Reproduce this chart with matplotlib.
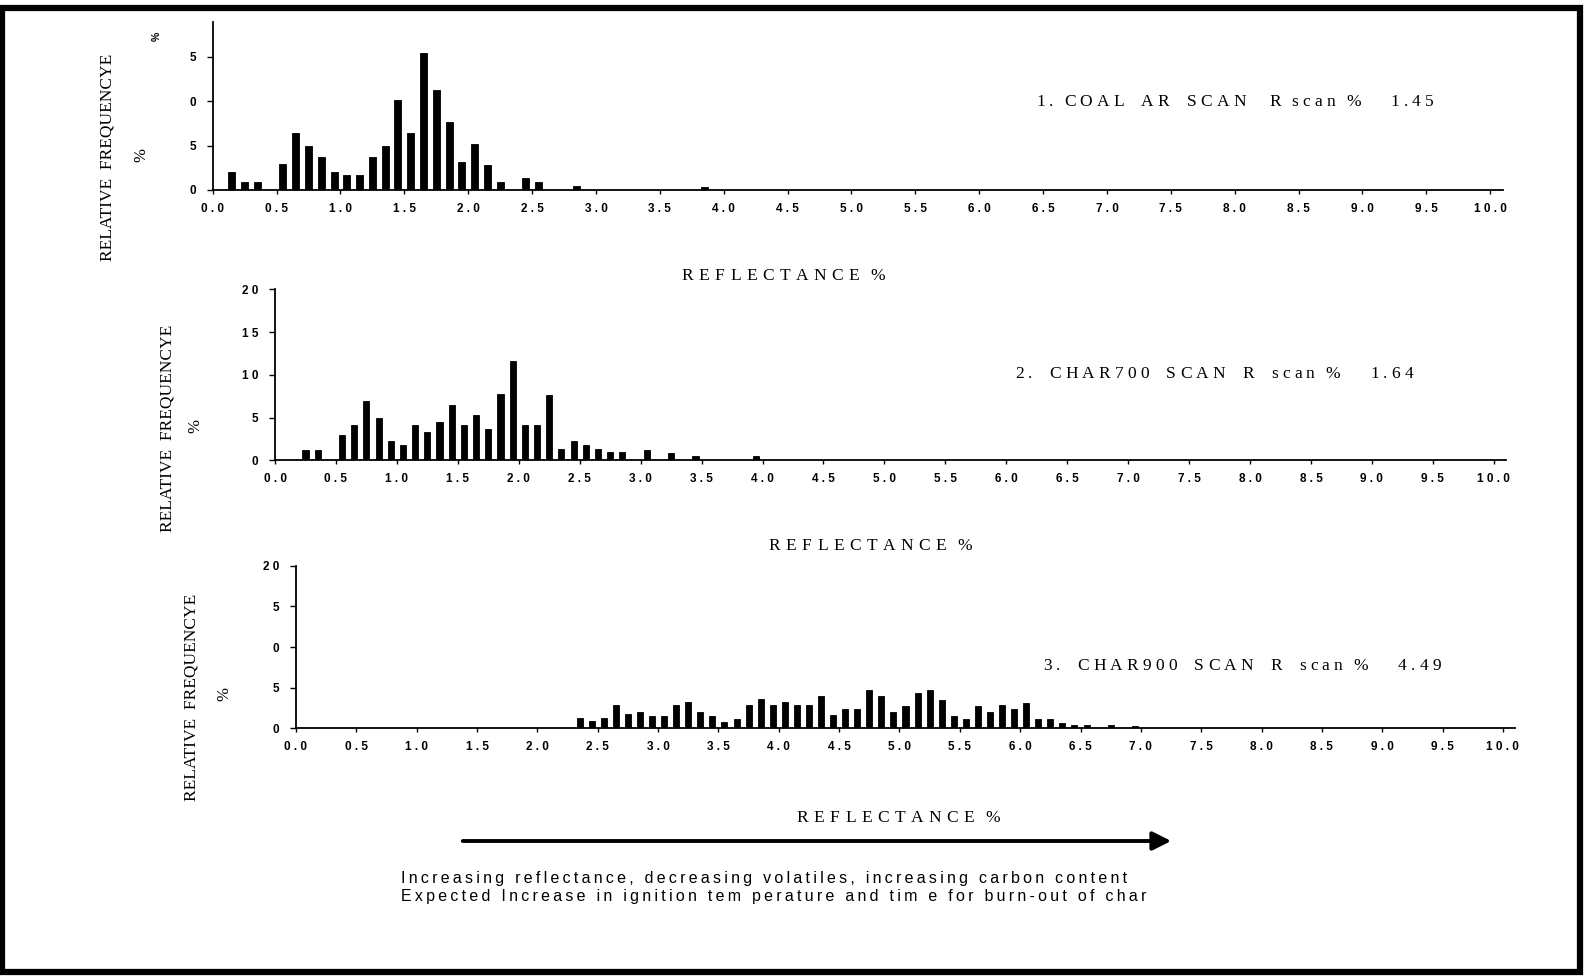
import matplotlib
matplotlib.use("Agg")
import matplotlib.pyplot as plt
from matplotlib.patches import Rectangle, FancyArrowPatch

# ---- data -------------------------------------------------------------
coal_x = [0.15, 0.25, 0.35, 0.55, 0.65, 0.75, 0.85, 0.95, 1.05, 1.15, 1.25,
          1.35, 1.45, 1.55, 1.65, 1.75, 1.85, 1.95, 2.05, 2.15, 2.25, 2.45,
          2.55, 2.85, 3.85]
coal_y = [2.0, 0.9, 0.9, 2.9, 6.4, 4.9, 3.7, 2.05, 1.7, 1.65, 3.7,
          4.9, 10.1, 6.4, 15.4, 11.3, 7.6, 3.2, 5.2, 2.8, 0.9, 1.3,
          0.9, 0.5, 0.3]

char700_x = [0.25, 0.35, 0.55, 0.65, 0.75, 0.85, 0.95, 1.05, 1.15, 1.25,
             1.35, 1.45, 1.55, 1.65, 1.75, 1.85, 1.95, 2.05, 2.15, 2.25,
             2.35, 2.45, 2.55, 2.65, 2.75, 2.85, 3.05, 3.25, 3.45, 3.95]
char700_y = [1.2, 1.2, 3.0, 4.15, 6.95, 5.0, 2.2, 1.8, 4.1, 3.35,
             4.5, 6.5, 4.1, 5.25, 3.7, 7.7, 11.65, 4.1, 4.1, 7.6,
             1.3, 2.2, 1.8, 1.3, 1.0, 1.0, 1.25, 0.9, 0.45, 0.5]

char900_x = [2.35, 2.45, 2.55, 2.65, 2.75, 2.85, 2.95, 3.05, 3.15, 3.25,
             3.35, 3.45, 3.55, 3.65, 3.75, 3.85, 3.95, 4.05, 4.15, 4.25,
             4.35, 4.45, 4.55, 4.65, 4.75, 4.85, 4.95, 5.05, 5.15, 5.25,
             5.35, 5.45, 5.55, 5.65, 5.75, 5.85, 5.95, 6.05, 6.15, 6.25,
             6.35, 6.45, 6.55, 6.75, 6.95]
char900_y = [1.25, 0.85, 1.25, 2.9, 1.7, 2.05, 1.55, 1.55, 2.85, 3.2,
             2.0, 1.55, 0.8, 1.15, 2.85, 3.55, 2.85, 3.25, 2.85, 2.85,
             4.0, 1.6, 2.4, 2.4, 4.75, 4.0, 2.0, 2.8, 4.3, 4.7,
             3.5, 1.5, 1.1, 2.75, 2.0, 2.85, 2.35, 3.15, 1.1, 1.1,
             0.7, 0.4, 0.35, 0.35, 0.3]

x_ticks = [0.0, 0.5, 1.0, 1.5, 2.0, 2.5, 3.0, 3.5, 4.0, 4.5, 5.0,
           5.5, 6.0, 6.5, 7.0, 7.5, 8.0, 8.5, 9.0, 9.5, 10.0]
x_tick_labels = ["0.0", "0.5", "1.0", "1.5", "2.0", "2.5", "3.0", "3.5",
                 "4.0", "4.5", "5.0", "5.5", "6.0", "6.5", "7.0", "7.5",
                 "8.0", "8.5", "9.0", "9.5", "10.0"]

coal_yticks = [0, 5, 10, 15]
coal_ytick_labels = ["0", "5", "0", "5"]
char700_yticks = [0, 5, 10, 15, 20]
char700_ytick_labels = ["0", "5", "10", "15", "20"]
char900_yticks = [0, 5, 10, 15, 20]
char900_ytick_labels = ["0", "5", "0", "5", "20"]

titles = ["1. COAL  AR  SCAN   R scan %    1.45",
          "2.  CHAR700  SCAN  R  scan %    1.64",
          "3.  CHAR900  SCAN  R  scan %    4.49"]
xlabel_text = "REFLECTANCE %"
ylabel_text = "RELATIVE  FREQUENCYE"
note_lines = ["Increasing reflectance, decreasing volatiles, increasing carbon content",
              "Expected Increase in ignition tem perature and tim e for burn-out of char"]

# ---- figure -----------------------------------------------------------
W, H = 1585, 977
fig = plt.figure(figsize=(W / 100, H / 100), dpi=100)
fig.patch.set_facecolor("white")
renderer = fig.canvas.get_renderer()

SANS = ["Liberation Sans", "DejaVu Sans"]
SERIF = ["Liberation Serif", "DejaVu Serif"]


def spaced(s, gap=" "):
    return gap.join(list(s))


def fx(px):
    return px / W


def fy(py):
    return 1 - py / H


def rect(left, top, right, bottom):
    return [fx(left), fy(bottom), fx(right) - fx(left), fy(top) - fy(bottom)]


def tracked(x_px, y_base, s, size, family, track, space, ha="left"):
    """Draw s one glyph at a time with a fixed gap (pixels) between glyphs."""
    widths = []
    for c in s:
        if c == " ":
            widths.append(None)
            continue
        t = fig.text(0, 0, c, fontsize=size, family=family)
        widths.append(t.get_window_extent(renderer=renderer).width)
        t.remove()
    xs, cur = [], 0.0
    for w in widths:
        if w is None:
            xs.append(None)
            cur += space
        else:
            xs.append(cur)
            cur += w + track
    total = cur - track
    x0 = x_px - total / 2 if ha == "center" else x_px
    for c, xx in zip(s, xs):
        if xx is None:
            continue
        fig.text(fx(x0 + xx), fy(y_base), c, fontsize=size, family=family,
                 ha="left", va="baseline")


panels = [
    dict(rect=rect(212.7, 22, 1503, 190), x=coal_x, y=coal_y, w=0.055,
         ymax=18.9, yt=coal_yticks, ytl=coal_ytick_labels),
    dict(rect=rect(275, 289.3, 1506, 460.3), x=char700_x, y=char700_y, w=0.05,
         ymax=20, yt=char700_yticks, ytl=char700_ytick_labels),
    dict(rect=rect(296, 565.7, 1515, 728.3), x=char900_x, y=char900_y, w=0.05,
         ymax=20, yt=char900_yticks, ytl=char900_ytick_labels),
]

for p in panels:
    ax = fig.add_axes(p["rect"])
    ax.bar(p["x"], p["y"], width=p["w"], color="black", edgecolor="black",
           linewidth=0.6)
    ax.set_xlim(0, 10.1)
    ax.set_ylim(0, p["ymax"])
    for side in ("top", "right"):
        ax.spines[side].set_visible(False)
    for side in ("left", "bottom"):
        ax.spines[side].set_linewidth(1.3)
        ax.spines[side].set_color("black")
    ax.set_xticks(x_ticks)
    ax.set_xticklabels([spaced(t) for t in x_tick_labels], fontsize=8.5,
                       fontweight="bold", family=SANS)
    ax.set_yticks(p["yt"])
    ax.set_yticklabels([spaced(t) for t in p["ytl"]], fontsize=8.5,
                       fontweight="bold", family=SANS)
    ax.tick_params(axis="x", length=3, width=1, pad=6, direction="out")
    ax.tick_params(axis="y", length=4, width=1, pad=8, direction="out")
    ax.set_facecolor("none")

# panel titles (letter-spaced serif)
for (x0, yb), t in zip([(1036, 106.5), (1015, 378.5), (1043, 669.5)], titles):
    tracked(x0, yb, t, 12.5, SERIF, track=4.2, space=6.5)

# reflectance labels under each axis
for xc, yb in [(783, 279.5), (870, 550.5), (898, 822.5)]:
    tracked(xc, yb, xlabel_text, 12.5, SERIF, track=5.5, space=5,
            ha="center")

# vertical frequency labels and % marks
for (xl, yl), (xp, yp) in zip([(108, 157), (167, 428), (191, 697)],
                              [(141, 155), (195, 426), (224, 694)]):
    fig.text(fx(xl), fy(yl), ylabel_text, family=SERIF, fontsize=12.5,
             rotation=90, ha="center", va="center")
    fig.text(fx(xp), fy(yp), "%", family=SERIF, fontsize=12,
             rotation=90, ha="center", va="center")
fig.text(fx(157), fy(36), "%", family=SANS, fontsize=7.5, fontweight="bold",
         rotation=90, ha="center", va="center")

# trend arrow and explanatory notes
arrow = FancyArrowPatch((fx(460), fy(841)), (fx(1174), fy(841)),
                        transform=fig.transFigure, arrowstyle="-|>",
                        mutation_scale=28, linewidth=2.8, color="black")
fig.add_artist(arrow)
for yy, line in zip([879, 897], note_lines):
    fig.text(fx(401), fy(yy), spaced(line, "\u2009"), family=SANS,
             fontsize=11.5, ha="left", va="center")

# outer frame
fig.add_artist(Rectangle((fx(2), fy(972)), fx(1580) - fx(2), fy(8) - fy(972),
                         transform=fig.transFigure, fill=False,
                         linewidth=4.5, edgecolor="black"))

fig.savefig("out.png", dpi=100)
